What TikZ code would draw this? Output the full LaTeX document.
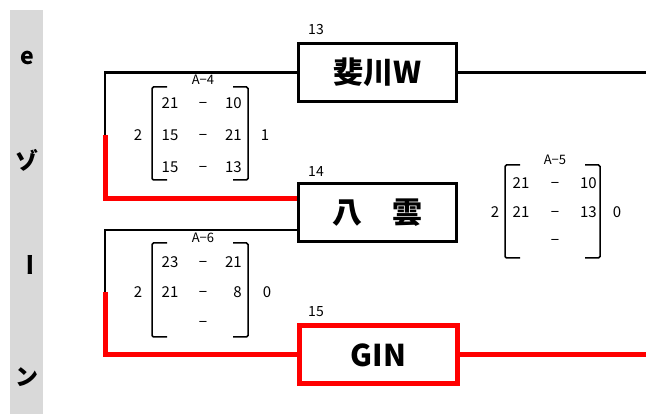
\documentclass[tikz,border=0pt]{standalone}
\usepackage{fontspec}
\setmainfont{Noto Sans CJK JP}
\usetikzlibrary{positioning}

\begin{document}
\begin{tikzpicture}[x=1pt,y=-1pt]
        \definecolor{zonegray}{RGB}{217,217,217}
        \definecolor{winred}{RGB}{255,0,0}

        % styles for boxes, lines and score text
        \tikzset{
            team/.style={draw, line width=3pt, minimum width=158pt, minimum height=58pt, inner sep=0pt, font=\bfseries\fontsize{30}{30}\selectfont},
            seed/.style={inner sep=0pt, font=\fontsize{14}{14}\selectfont},
            zone/.style={inner sep=0pt, font=\bfseries\fontsize{23}{23}\selectfont},
            score/.style={inner sep=0pt, text height=11pt, text depth=0pt, font=\fontsize{15}{15}\selectfont},
            game/.style={inner sep=0pt, font=\fontsize{13}{13}\selectfont},
            tie/.style={line width=2.5pt},
            win/.style={line width=5pt, winred},
            brk/.style={line width=1.5pt, rounded corners=1.5pt}
        }

        \useasboundingbox (0,0) rectangle (646,414);

        % zone strip
        \fill[zonegray] (10,10) rectangle (43,414);
        \node[zone] (ze) at (27,58) {e};
        \node[zone] (zzo) at (27,160) {ゾ};
        \node[zone, rotate=-90] (zbar) at (27,265) {ー};
        \node[zone] (zn) at (27,377) {ン};

        % teams
        \node[team] (hikawa) at (377.5,72.5) {斐川W};
        \node[team] (yakumo) at (377,213) {八　雲};
        \node[team, draw=winred, line width=5pt] (gin) at (378.5,355) {GIN};

        \node[seed] (s13) at (316,30) {13};
        \node[seed] (s14) at (316,172) {14};
        \node[seed] (s15) at (316,312) {15};

        % bracket lines
        \coordinate (top1) at (105,72.5);
        \coordinate (mid1) at (105,135);
        \coordinate (top2) at (105,230);
        \coordinate (mid2) at (105,292);
        \coordinate (out1) at (646,72.5);
        \coordinate (out2) at (646,355);

        \draw[tie] (hikawa.west) -- (top1) -- (mid1);
        \draw[win] (mid1) -- (mid1 |- 0,199) -- ([yshift=14pt]yakumo.west);
        \draw[tie] ([yshift=-17pt]yakumo.west) -- (top2) -- (mid2);
        \draw[win] (mid2) -- (mid2 |- gin.west) -- (gin.west);
        \draw[tie] (hikawa.east) -- (out1);
        \draw[win] (gin.east) -- (out2);

        % score A-4
        \node[game] (g4) at (203,80) {A−4};
        \draw[brk] (167,87) -- (152,87) -- (152,180) -- (167,180);
        \draw[brk] (233,87) -- (248,87) -- (248,180) -- (233,180);
        \node[score] (g4l) at (138,135) {2};
        \node[score] (g4r) at (265,135) {1};
        \node[score] at (170,103) {21};
        \node[score] at (203,103) {−};
        \node[score, anchor=east] at (242,103) {10};
        \node[score] at (170,135) {15};
        \node[score] at (203,135) {−};
        \node[score, anchor=east] at (242,135) {21};
        \node[score] at (170,167) {15};
        \node[score] at (203,167) {−};
        \node[score, anchor=east] at (242,167) {13};

        % score A-6
        \node[game] (g6) at (203,238) {A−6};
        \draw[brk] (167,243) -- (152,243) -- (152,337) -- (167,337);
        \draw[brk] (233,243) -- (248,243) -- (248,337) -- (233,337);
        \node[score] (g6l) at (138,292) {2};
        \node[score] (g6r) at (267,292) {0};
        \node[score] at (170,262) {23};
        \node[score] at (203,262) {−};
        \node[score, anchor=east] at (242,262) {21};
        \node[score] at (170,292) {21};
        \node[score] at (203,292) {−};
        \node[score, anchor=east] at (242,292) {8};
        \node[score] at (203,322) {−};

        % score A-5
        \node[game] (g5) at (555,160) {A−5};
        \draw[brk] (520,165) -- (505,165) -- (505,258) -- (520,258);
        \draw[brk] (585,165) -- (600,165) -- (600,258) -- (585,258);
        \node[score] (g5l) at (495,212) {2};
        \node[score] (g5r) at (617,212) {0};
        \node[score] at (521,183) {21};
        \node[score] at (555,183) {−};
        \node[score, anchor=east] at (597,183) {10};
        \node[score] at (521,212) {21};
        \node[score] at (555,212) {−};
        \node[score, anchor=east] at (597,212) {13};
        \node[score] at (555,240) {−};
    \end{tikzpicture}
\end{document}
